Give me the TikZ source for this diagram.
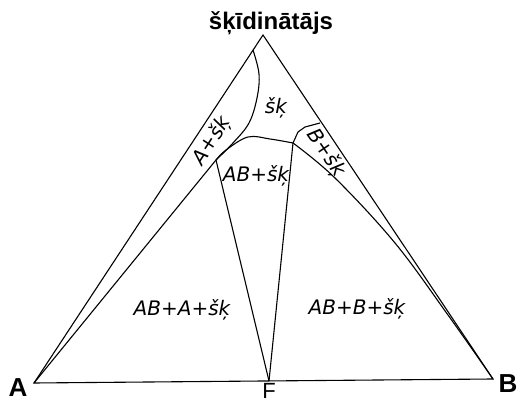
\documentclass[tikz,border=0pt]{standalone}
\usepackage{fontspec}
\setmainfont{DejaVu Sans}
\newfontfamily\headfont{Liberation Sans}
\usetikzlibrary{positioning}

\begin{document}
\begin{tikzpicture}[x=0.5pt, y=-0.5pt, line width=0.55pt,
    region/.style={font=\itshape\fontsize{10}{12}\selectfont},
    corner/.style={font=\headfont\bfseries\fontsize{13}{15}\selectfont}]
    \useasboundingbox (0,0) rectangle (521,401);

    % Virsotnes un mezglu punkti
    \coordinate (T) at (263,35);
    \coordinate (A) at (34,383);
    \coordinate (B) at (493,379);
    \coordinate (F) at (269,381);
    \coordinate (J1) at (216,160);
    \coordinate (J2) at (293,143);
    \coordinate (E1) at (253,50);
    \coordinate (E2) at (320,123);

    % Trijstūris
    \draw (A) -- (T) -- (B) -- cycle;

    % Robežlīnijas
    \draw plot[smooth, tension=0.6] coordinates {(E1) (259,74) (257,98) (249,123) (233,143) (J1)};
    \draw (J1) -- (A);
    \draw plot[smooth, tension=0.6] coordinates {(J1) (226,150) (248,137) (270,139) (J2)};
    \draw (J2) -- (298,132) -- (305,127) -- (E2);
    \draw plot[smooth, tension=0.6] coordinates {(J2) (335,178) (395,243) (448,315) (B)};
    \draw (J1) -- (F);
    \draw (J2) -- (F);

    % Uzraksti
    \node[font=\headfont\bfseries\fontsize{12}{14}\selectfont, anchor=base] (title) at (271,30) {šķīdinātājs};
    \node[corner] (lblA) at (18,388) {A};
    \node[corner] (lblB) at (508,384) {B};
    \node[font=\headfont\fontsize{11}{13}\selectfont] (lblF) at (269,391) {F};
    \node[region] (sk) at (276,108) {šķ};
    \node[region, rotate=57] (Ask) at (212,141) {A+šķ};
    \node[region, rotate=-56] (Bsk) at (326,153) {B+šķ};
    \node[region] (ABsk) at (256,176) {AB+šķ};
    \node[region] (ABAsk) at (182,310) {AB+A+šķ};
    \node[region] (ABBsk) at (357,309) {AB+B+šķ};
\end{tikzpicture}
\end{document}
